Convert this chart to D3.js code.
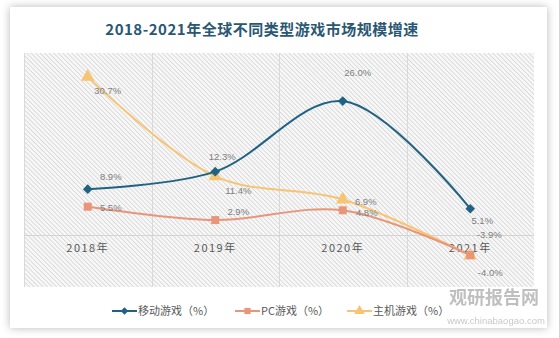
<!DOCTYPE html>
<html><head><meta charset="utf-8">
<script src="https://cdn.jsdelivr.net/npm/d3@7"></script>
<style>body{margin:0;background:#fff;}svg{display:block;}</style>
</head><body>
<svg id="c" width="559" height="338"></svg>
<script>
const title = "2018-2021年全球不同类型游戏市场规模增速";
const categories = ["2018年","2019年","2020年","2021年"];
const seriesNames = ["移动游戏（%）","PC游戏（%）","主机游戏（%）"];
const mobile = [8.9, 12.3, 26.0, 5.1];
const pc = [5.5, 2.9, 4.8, -3.9];
const consoleG = [30.7, 11.4, 6.9, -4.0];
const colors = ["#1f6283","#e8957a","#f7c473"];
// label offsets relative to point
const labelOffsets = [
  [[23,-12],[7,-15],[15,-28],[12,12]],
  [[23,1],[23,-8],[24,2],[19,-20]],
  [[20,14],[23,14],[23,2],[20,17]]
];

const svg = d3.select("#c");
const defs = svg.append("defs");
const f = defs.append("filter").attr("id","sh").attr("x","-5%").attr("y","-5%").attr("width","110%").attr("height","110%");
f.append("feDropShadow").attr("dx",0).attr("dy",0).attr("stdDeviation",4).attr("flood-color","#000").attr("flood-opacity",0.28);
const pat = defs.append("pattern").attr("id","hatch").attr("patternUnits","userSpaceOnUse")
  .attr("width",3.2).attr("height",3.2).attr("patternTransform","rotate(-45)");
pat.append("rect").attr("width",3.2).attr("height",3.2).attr("fill","#f7f7f7");
pat.append("line").attr("x1",0).attr("y1",0).attr("x2",0).attr("y2",3.2).attr("stroke","#cccccc").attr("stroke-width",1.2);

svg.append("rect").attr("x",10).attr("y",7).attr("width",537).attr("height",321).attr("fill","#fff").attr("filter","url(#sh)");

svg.append("text").attr("x",262).attr("y",35).attr("text-anchor","middle")
  .attr("font-family","'Noto Sans CJK SC', sans-serif").attr("font-weight","bold").attr("font-size",15)
  .attr("fill","#2a5873").attr("letter-spacing",0.5).text(title);

const plot = {x0:24, x1:534, y0:53, y1:287};
svg.append("rect").attr("x",plot.x0).attr("y",plot.y0).attr("width",plot.x1-plot.x0).attr("height",plot.y1-plot.y0).attr("fill","url(#hatch)");

const x = d3.scaleBand().domain(categories).range([plot.x0, plot.x1]);
const y = d3.scaleLinear().domain([-5, 35]).range([260.75, 54.75]);

// vertical gridlines at band boundaries
const bounds = categories.map(c => x(c)).concat([plot.x1]);
svg.selectAll(".vg").data(bounds.slice(0,4)).enter().append("line")
  .attr("x1",d=>Math.round(d)+0.5).attr("x2",d=>Math.round(d)+0.5).attr("y1",plot.y0).attr("y2",plot.y1)
  .attr("stroke","#d9d9d9").attr("stroke-width",1);
// zero line
svg.append("line").attr("x1",plot.x0).attr("x2",plot.x1).attr("y1",Math.round(y(0))+0.5).attr("y2",Math.round(y(0))+0.5)
  .attr("stroke","#d4d4d4").attr("stroke-width",1);

// category labels
const xAxis = d3.axisBottom(x).tickSize(0).tickPadding(0);
const ag = svg.append("g").attr("transform",`translate(0,${y(0)+14})`).call(xAxis);
ag.select(".domain").remove();
ag.selectAll("text").attr("font-family","'Noto Sans CJK SC', sans-serif").attr("font-size",11)
  .attr("fill","#595959").attr("letter-spacing",1.5).attr("dy","0.3em");

const data = [mobile, pc, consoleG];
const cx = c => x(c) + x.bandwidth()/2;
const line = d3.line().x((d,i)=>cx(categories[i])).y(d=>y(d)).curve(d3.curveCatmullRom.alpha(0.5));
const markerTypes = [d3.symbolDiamond2, d3.symbolSquare, d3.symbolTriangle];
const markerSizes = [60, 64, 80];

[2,1,0].forEach(s => {
  svg.append("path").attr("d", line(data[s])).attr("fill","none").attr("stroke",colors[s]).attr("stroke-width",2);
});
[2,1,0].forEach(s => {
  svg.selectAll(".m"+s).data(data[s]).enter().append("path")
    .attr("transform",(d,i)=>`translate(${cx(categories[i])},${y(d)})`)
    .attr("d", d3.symbol().type(markerTypes[s]).size(markerSizes[s])())
    .attr("fill",colors[s]);
});
[0,1,2].forEach(s => {
  svg.selectAll(".l"+s).data(data[s]).enter().append("text")
    .attr("x",(d,i)=>cx(categories[i])+labelOffsets[s][i][0])
    .attr("y",(d,i)=>y(d)+labelOffsets[s][i][1])
    .attr("dy","0.35em").attr("text-anchor","middle")
    .attr("font-family","'Liberation Sans', Arial, sans-serif").attr("font-size",9.5)
    .attr("fill","#7f7f7f").text(d=>d.toFixed(1)+"%");
});

// legend
const legX = [112, 235, 347];
const lg = svg.append("g");
seriesNames.forEach((n,s) => {
  const g = lg.append("g").attr("transform",`translate(${legX[s]},311)`);
  g.append("line").attr("x1",0).attr("x2",25).attr("y1",0).attr("y2",0).attr("stroke",colors[s]).attr("stroke-width",2);
  g.append("path").attr("transform","translate(12.5,0)").attr("d",d3.symbol().type(markerTypes[s]).size(markerSizes[s]*0.6)()).attr("fill",colors[s]);
  g.append("text").attr("x",26).attr("y",0).attr("dy","0.35em")
    .attr("font-family","'Noto Sans CJK SC', sans-serif").attr("font-size",11).attr("fill","#595959").text(n);
});

// watermark
const wm = svg.append("g").attr("opacity",0.55);
wm.append("text").attr("x",494).attr("y",304).attr("text-anchor","middle")
  .attr("font-family","'Noto Sans CJK SC', sans-serif").attr("font-weight","bold").attr("font-size",18)
  .attr("fill","#8c8c8c").text("观研报告网");
wm.append("text").attr("x",496).attr("y",324).attr("text-anchor","middle")
  .attr("font-family","'Liberation Sans', sans-serif").attr("font-size",9.5)
  .attr("fill","#9a9a9a").text("www.chinabaogao.com");
</script>
</body></html>
